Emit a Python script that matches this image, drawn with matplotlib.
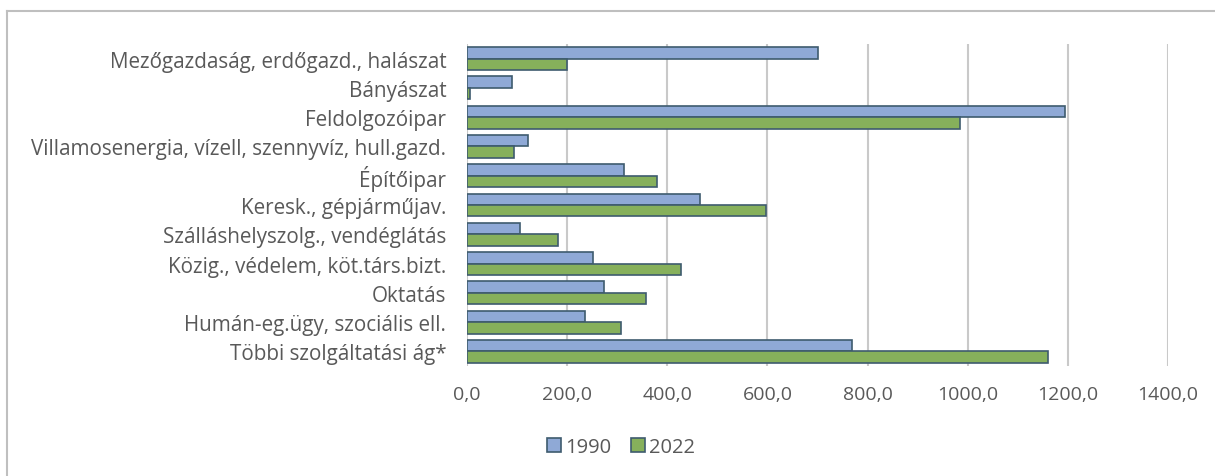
import matplotlib
matplotlib.use("Agg")
import matplotlib.pyplot as plt
from matplotlib.lines import Line2D
from matplotlib.patches import Patch
import numpy as np

categories = [
    "Mezőgazdaság, erdőgazd., halászat",
    "Bányászat",
    "Feldolgozóipar",
    "Villamosenergia, vízell, szennyvíz, hull.gazd.",
    "Építőipar",
    "Keresk., gépjárműjav.",
    "Szálláshelyszolg., vendéglátás",
    "Közig., védelem, köt.társ.bizt.",
    "Oktatás",
    "Humán-eg.ügy, szociális ell.",
    "Többi szolgáltatási ág*",
]
values_1990 = [700, 90, 1194, 121, 314, 465, 105, 251, 273, 235, 769]
values_2022 = [200, 5, 984, 93, 379, 597, 182, 427, 358, 307, 1160]
series_labels = ["1990", "2022"]
xticks = [0, 200, 400, 600, 800, 1000, 1200, 1400]

plt.rcParams['font.family'] = ['Open Sans', 'DejaVu Sans']
txt = '#595959'

fig = plt.figure(figsize=(12.15, 4.77), dpi=100)
ax = fig.add_axes([467/1215, 1-367/477, (1168-467)/1215, (367-45)/477])

y = np.arange(len(categories))
h = 0.39
edge = '#3E5B6E'
c1 = '#8FA9D6'
c2 = '#86B05B'
ax.barh(y - h/2, values_1990, height=h, color=c1, edgecolor=edge, linewidth=1.2, label=series_labels[0], zorder=3)
ax.barh(y + h/2, values_2022, height=h, color=c2, edgecolor=edge, linewidth=1.2, label=series_labels[1], zorder=3)

ax.set_xlim(0, 1400)
ax.set_ylim(len(categories) - 0.5, -0.5)
ax.set_xticks(xticks)
ax.set_xticklabels([f"{v:.1f}".replace('.', ',') for v in xticks])
ax.set_yticks(y)
ax.set_yticklabels(categories)
ax.grid(axis='x', color='#C9C9C9', linewidth=1.5, zorder=0)
for s in ax.spines.values():
    s.set_visible(False)
ax.tick_params(axis='y', length=0, pad=15, labelsize=14.9, labelcolor=txt)
ax.tick_params(axis='x', length=0, pad=14, labelsize=14, labelcolor=txt)

handles = [Patch(facecolor=c1, edgecolor=edge, linewidth=1.2),
           Patch(facecolor=c2, edgecolor=edge, linewidth=1.2)]
fig.legend(handles, series_labels, loc='center', bbox_to_anchor=(621/1215, 1-448/477),
           ncol=2, frameon=False, fontsize=14.5, labelcolor=txt,
           handlelength=0.7, handleheight=0.7, handletextpad=0.2, columnspacing=1.0)

fig.add_artist(Line2D([7/1215, 1], [1-12/477, 1-12/477], color='#BFBFBF', linewidth=1.5, transform=fig.transFigure))
fig.add_artist(Line2D([7/1215, 7/1215], [0, 1-12/477], color='#BFBFBF', linewidth=1.5, transform=fig.transFigure))

fig.savefig("out.png", dpi=100)
